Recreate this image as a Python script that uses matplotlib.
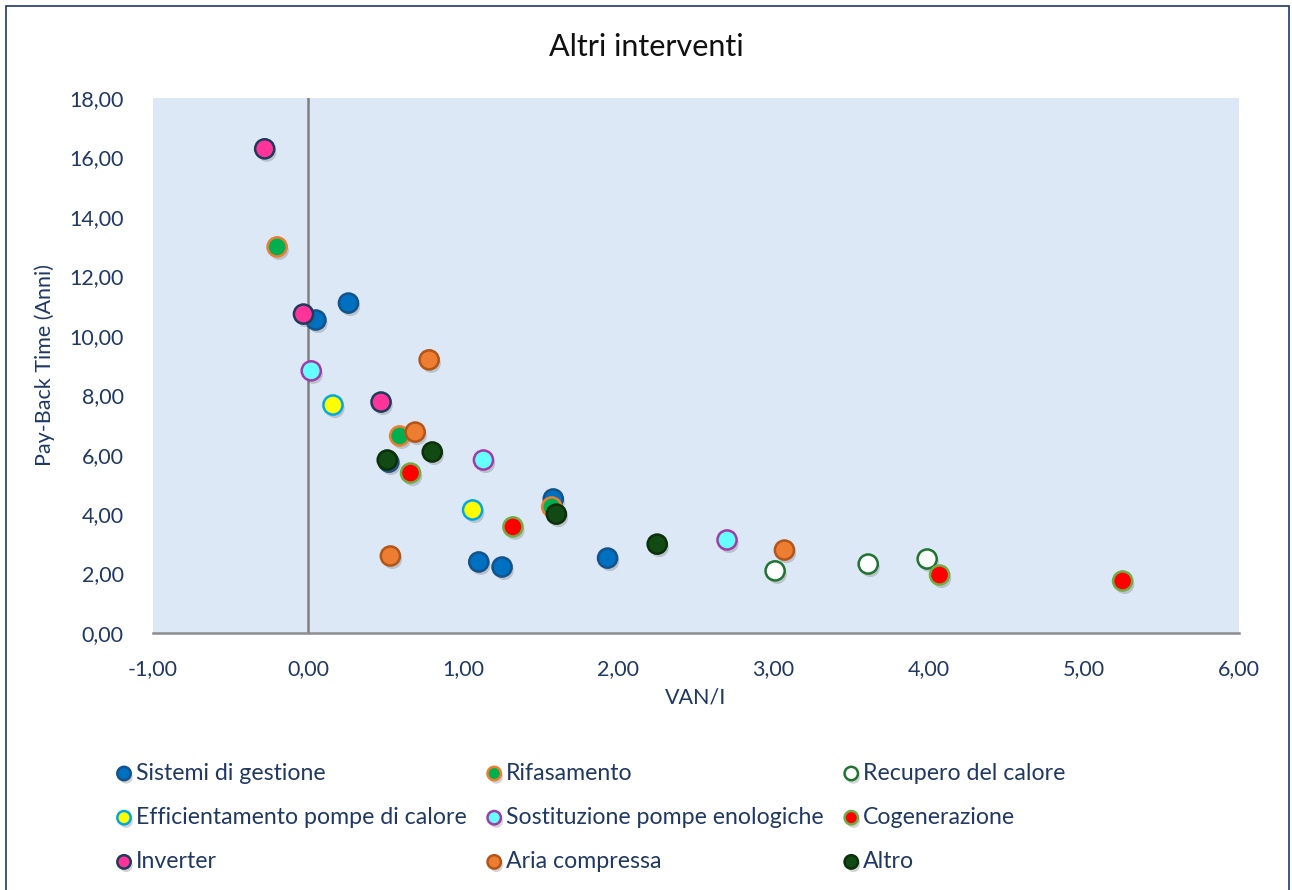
import numpy as np
import matplotlib
matplotlib.use('Agg')
import matplotlib.pyplot as plt
import matplotlib.patheffects as pe
from matplotlib.ticker import FuncFormatter, MultipleLocator
from matplotlib.patches import Rectangle

#%% data (VAN/I, Pay-Back Time)
sistemi_x = [0.05, 0.26, 1.58, 1.10, 1.25, 1.93, 0.52]
sistemi_y = [10.53, 11.10, 4.51, 2.39, 2.22, 2.52, 5.75]

rifas_x = [-0.20, 0.59, 1.57]
rifas_y = [12.99, 6.63, 4.24]

recupero_x = [3.01, 3.61, 3.99]
recupero_y = [2.09, 2.32, 2.49]

effic_x = [0.16, 1.06]
effic_y = [7.67, 4.14]

sostit_x = [0.02, 1.13, 2.70]
sostit_y = [8.82, 5.82, 3.13]

cogen_x = [0.66, 1.32, 4.07, 5.25]
cogen_y = [5.38, 3.57, 1.95, 1.75]

inverter_x = [-0.28, -0.03, 0.47]
inverter_y = [16.29, 10.73, 7.77]

aria_x = [0.78, 0.69, 0.53, 3.07]
aria_y = [9.19, 6.76, 2.59, 2.79]

altro_x = [0.51, 0.80, 1.60, 2.25]
altro_y = [5.82, 6.09, 4.00, 2.99]

series = [
    ('Sistemi di gestione', sistemi_x, sistemi_y, '#0070C0', '#15528A'),
    ('Rifasamento', rifas_x, rifas_y, '#00B050', '#ED7D31'),
    ('Recupero del calore', recupero_x, recupero_y, '#FFFFFF', '#1E7430'),
    ('Efficientamento pompe di calore', effic_x, effic_y, '#FFFF00', '#00A8E8'),
    ('Sostituzione pompe enologiche', sostit_x, sostit_y, '#66FFFF', '#A03CA8'),
    ('Cogenerazione', cogen_x, cogen_y, '#FF0000', '#70AD47'),
    ('Inverter', inverter_x, inverter_y, '#FF3399', '#1F3A5A'),
    ('Aria compressa', aria_x, aria_y, '#ED7D31', '#B35418'),
    ('Altro', altro_x, altro_y, '#124A14', '#0B300B'),
]

navy = '#1F3864'
plt.rcParams['font.family'] = ['Lato', 'DejaVu Sans']

#%% plot
fig = plt.figure(figsize=(12.92, 8.9), dpi=100)
ax = fig.add_axes([153/1292, 1-633/890, (1239-153)/1292, (633-98)/890])
ax.set_facecolor('#DCE8F5')

shadow = [pe.SimplePatchShadow(offset=(1.5, -2.5), alpha=0.25, shadow_rgbFace='#555555'), pe.Normal()]
handles = {}
for name, xs, ys, fc, ec in series:
    h = ax.scatter(xs, ys, s=190, c=fc, edgecolors=ec, linewidths=1.8,
                   zorder=3, label=name, path_effects=shadow)
    handles[name] = h

ax.set_xlim(-1, 6)
ax.set_ylim(0, 18)
ax.xaxis.set_major_locator(MultipleLocator(1))
ax.yaxis.set_major_locator(MultipleLocator(2))
fmt = FuncFormatter(lambda v, p: f'{v:.2f}'.replace('.', ','))
ax.xaxis.set_major_formatter(fmt)
ax.yaxis.set_major_formatter(fmt)
ax.tick_params(length=0, labelsize=15.5, colors=navy)
ax.tick_params(axis='x', pad=19)
ax.tick_params(axis='y', pad=21)

for s in ['top', 'right', 'left']:
    ax.spines[s].set_visible(False)
ax.spines['bottom'].set_color('#8C8C8C')
ax.spines['bottom'].set_linewidth(1.8)
ax.axvline(0, color='#808080', lw=1.8, zorder=2)

ax.set_xlabel('VAN/I', fontsize=15.5, color=navy, labelpad=6)
ax.set_ylabel('Pay-Back Time (Anni)', fontsize=15.5, color=navy, labelpad=10)
fig.text(0.5, 1-47/890, 'Altri interventi', ha='center', va='center', fontsize=22, color='#111111')

# legend: column-major order so rows read like the original
order = ['Sistemi di gestione', 'Efficientamento pompe di calore', 'Inverter',
         'Rifasamento', 'Sostituzione pompe enologiche', 'Aria compressa',
         'Recupero del calore', 'Cogenerazione', 'Altro']
leg = fig.legend([handles[k] for k in order], order, ncol=3, frameon=False,
                 loc='upper left', bbox_to_anchor=(102/1292, 1-751/890),
                 fontsize=16.7, handletextpad=0.05, columnspacing=0.75,
                 labelspacing=1.0, handlelength=0.9, borderpad=0,
                 markerscale=0.7)
for t in leg.get_texts():
    t.set_color(navy)

# outer border
fig.patches.append(Rectangle((6/1292, -0.01), 1283/1292, 1.0 - 6/890 + 0.01,
                             transform=fig.transFigure, fill=False,
                             edgecolor='#1F3864', lw=1.2))

plt.savefig('out.png', dpi=100)
